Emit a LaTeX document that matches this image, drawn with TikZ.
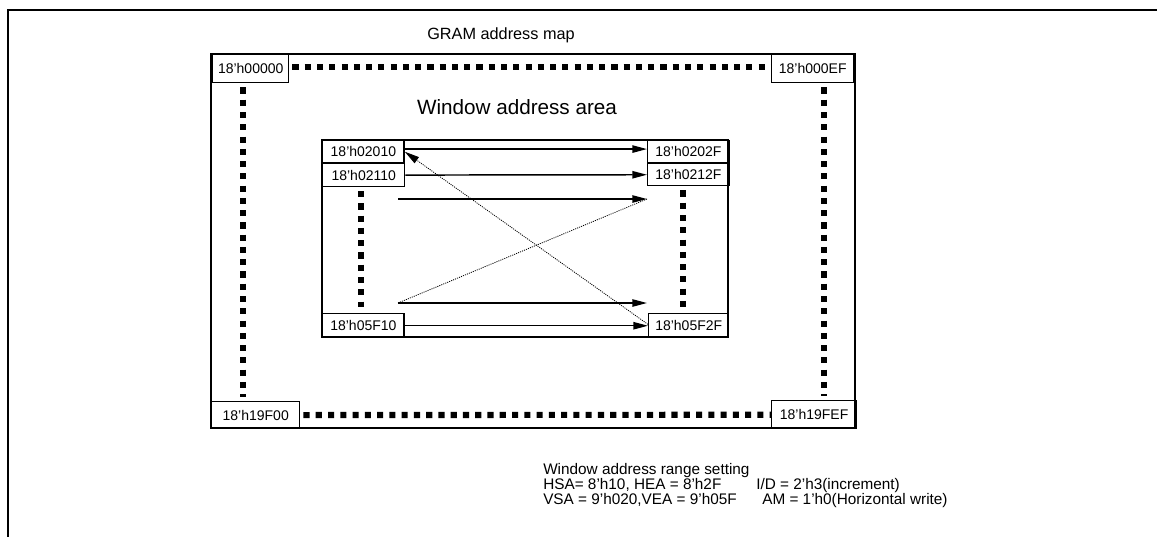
\documentclass[tikz,border=0pt]{standalone}
\usepackage{fontspec}
\setmainfont{Liberation Sans}
\usetikzlibrary{arrows.meta}

\tikzset{
  addrbox/.style={draw, line width=1.1pt, inner sep=0pt, anchor=north west,
    font=\fontsize{10.5}{12}\selectfont},
  sqdots/.style={line width=4.6pt, dash pattern=on 4.6pt off 4.6pt},
  rowarrow/.style={line width=1.1pt, -{Triangle[length=11pt,width=5.5pt]}},
  scanline/.style={line width=0.6pt, dash pattern=on 0.8pt off 0.8pt},
  note/.style={inner sep=0pt, anchor=base west, font=\fontsize{11.5}{13}\selectfont}
}

\begin{document}
\begin{tikzpicture}[x=0.75pt, y=-0.75pt]
  \useasboundingbox (0,0) rectangle (1157,536);
  \draw [line width=2pt] (8,540) -- (8,10) -- (1160,10);

  % GRAM address map
  \node [font=\fontsize{12.2}{14}\selectfont] (gramtitle) at (501,35) {GRAM address map};
  \draw [line width=1.1pt] (211,54) rectangle (855,428);
  \node [addrbox, minimum width=57pt, minimum height=21pt] (g00000) at (212,54) {18’h00000};
  \node [addrbox, minimum width=61.5pt, minimum height=21pt] (g000EF) at (771,54) {18’h000EF};
  \node [addrbox, minimum width=66pt, minimum height=20pt] (g19F00) at (211,401) {18’h19F00};
  \node [addrbox, minimum width=63.5pt, minimum height=21pt] (g19FEF) at (771,400) {18’h19FEF};

  \draw [sqdots] ([shift={(3,-2)}]g00000.east) -- ([yshift=1.5pt]g000EF.west);
  \draw [sqdots] ([shift={(3,0)}]g19F00.east) -- (g19FEF.west);
  \draw [sqdots] ([shift={(31,4)}]g00000.south west) -- ([shift={(32,-4)}]g19F00.north west);
  \draw [sqdots] ([shift={(53,4)}]g000EF.south west) -- ([shift={(53,-4)}]g19FEF.north west);

  % Window address area
  \node [font=\fontsize{15.5}{18}\selectfont] (wintitle) at (517,107) {Window address area};
  \draw [line width=1.1pt] (322,140) rectangle (728,337);
  \node [addrbox, minimum width=61pt, minimum height=16.5pt] (w02010) at (322,140) {18’h02010};
  \node [addrbox, minimum width=61.5pt, minimum height=17pt] (w02110) at (322,163) {18’h02110};
  \node [addrbox, minimum width=61pt, minimum height=16.5pt] (w0202F) at (647,140) {18’h0202F};
  \node [addrbox, minimum width=61pt, minimum height=16.5pt] (w0212F) at (647,163) {18’h0212F};
  \node [addrbox, minimum width=61pt, minimum height=18pt] (w05F10) at (322,313) {18’h05F10};
  \node [addrbox, minimum width=60pt, minimum height=18pt] (w05F2F) at (648,313) {18’h05F2F};

  \draw [sqdots] ([shift={(39,4)}]w02110.south west) -- ([shift={(39,-6)}]w05F10.north west);
  \draw [sqdots] ([shift={(36,4)}]w0212F.south west) -- ([shift={(35,-6)}]w05F2F.north west);

  % Horizontal write order
  \coordinate (r3s) at (398,199);
  \coordinate (r3e) at (647,199);
  \coordinate (r4s) at (398,303);
  \coordinate (r4e) at (647,303);
  \draw [rowarrow] ([yshift=2pt]w02010.east) -- ([yshift=2pt]w0202F.west);
  \draw [rowarrow] (w02110.east) -- (w0212F.west);
  \draw [rowarrow] (r3s) -- (r3e);
  \draw [rowarrow] (r4s) -- (r4e);
  \draw [rowarrow] (w05F10.east) -- (w05F2F.west);
  \draw [scanline] (r4s) -- (r3e);
  \draw [scanline, -{Triangle[length=11pt,width=5.5pt]}] ([yshift=1pt]w05F2F.west) -- (w02010.east);

  % Range setting
  \node [note] (set1) at (543,474) {Window address range setting};
  \node [note] (set2) at (543,489) {HSA= 8’h10, HEA = 8’h2F};
  \node [note] (set3) at (543,504) {VSA = 9’h020,VEA = 9’h05F};
  \node [note] (idset) at (756,489) {I/D = 2’h3(increment)};
  \node [note] (amset) at (762,504) {AM = 1’h0(Horizontal write)};
\end{tikzpicture}
\end{document}
